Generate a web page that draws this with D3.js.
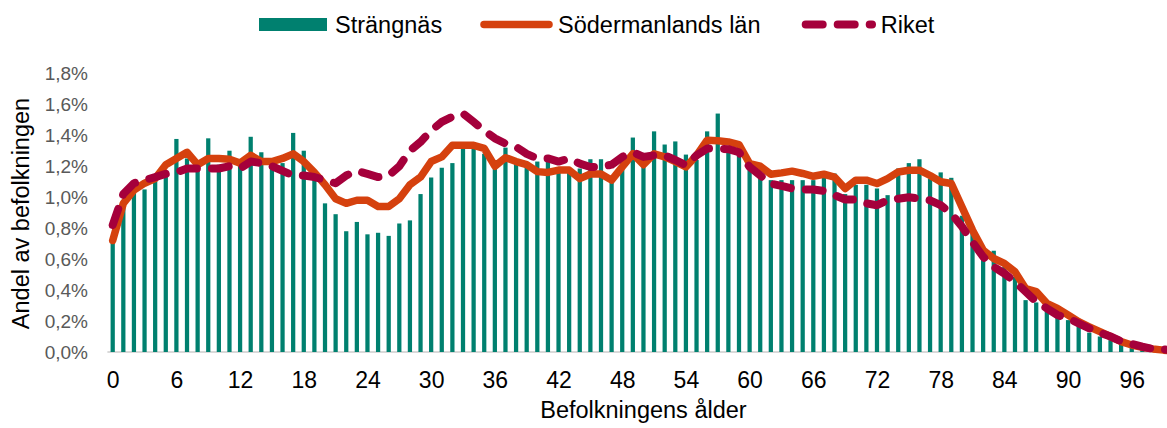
<!DOCTYPE html>
<html lang="sv">
	<head>
		<meta charset="utf-8">
		<title>Befolkning efter ålder</title>
		<script type="text/javascript" src="https://cdn.jsdelivr.net/npm/d3@7"></script>
		<style type="text/css">
			body { margin: 0; background: #fff; }
			svg { display: block; }
			text { font-family: "Liberation Sans", Arial, sans-serif; }
		</style>
	</head>
	<body>
		<script type="text/javascript">
			var w = 1167;
			var h = 428;

			// ages 0..100
			var ages = d3.range(0, 101);
			var xTickLabels = [0, 6, 12, 18, 24, 30, 36, 42, 48, 54, 60, 66, 72, 78, 84, 90, 96];
			var yTickLabels = [0, 0.2, 0.4, 0.6, 0.8, 1.0, 1.2, 1.4, 1.6, 1.8];

			// share of population, %
			var strangnas = [
				0.74, 0.98, 1.03, 1.05, 1.11, 1.15, 1.376, 1.25, 1.20, 1.38,
				1.21, 1.30, 1.21, 1.39, 1.29, 1.245, 1.22, 1.415, 1.30, 1.15,
				0.96, 0.89, 0.78, 0.84, 0.76, 0.77, 0.75, 0.83, 0.85, 1.02,
				1.127, 1.19, 1.22, 1.32, 1.32, 1.28, 1.24, 1.32, 1.24, 1.20,
				1.23, 1.23, 1.17, 1.16, 1.185, 1.245, 1.245, 1.12, 1.275, 1.385,
				1.215, 1.425, 1.34, 1.36, 1.275, 1.24, 1.425, 1.54, 1.325, 1.29,
				1.20, 1.146, 1.11, 1.11, 1.11, 1.11, 1.11, 1.168, 1.153, 1.02,
				1.08, 1.08, 1.056, 1.013, 1.185, 1.22, 1.245, 1.12, 1.16, 1.125,
				0.88, 0.765, 0.61, 0.654, 0.55, 0.486, 0.335, 0.32, 0.28, 0.25,
				0.206, 0.174, 0.125, 0.10, 0.077, 0.056, 0.03, 0.02, 0.012, 0.006,
				0.004
			];
			var sodermanland = [
				0.72, 0.96, 1.045, 1.09, 1.12, 1.21, 1.25, 1.29, 1.21, 1.25,
				1.25, 1.245, 1.22, 1.27, 1.23, 1.23, 1.25, 1.28, 1.23, 1.16,
				1.08, 0.99, 0.96, 0.98, 0.98, 0.94, 0.94, 0.99, 1.08, 1.13,
				1.23, 1.26, 1.335, 1.335, 1.335, 1.315, 1.20, 1.255, 1.23, 1.21,
				1.165, 1.16, 1.175, 1.175, 1.12, 1.15, 1.15, 1.11, 1.195, 1.28,
				1.21, 1.28, 1.26, 1.23, 1.195, 1.27, 1.368, 1.365, 1.357, 1.34,
				1.217, 1.20, 1.148, 1.157, 1.168, 1.153, 1.135, 1.148, 1.13, 1.056,
				1.11, 1.11, 1.088, 1.12, 1.163, 1.174, 1.174, 1.14, 1.10, 1.088,
				0.937, 0.787, 0.658, 0.604, 0.572, 0.518, 0.41, 0.39, 0.314, 0.282,
				0.239, 0.196, 0.163, 0.131, 0.10, 0.067, 0.045, 0.03, 0.02, 0.012,
				0.006
			];
			var riket = [
				0.82, 1.02, 1.09, 1.11, 1.13, 1.15, 1.16, 1.185, 1.185, 1.185,
				1.185, 1.20, 1.185, 1.23, 1.22, 1.20, 1.17, 1.14, 1.14, 1.13,
				1.11, 1.09, 1.14, 1.17, 1.15, 1.13, 1.14, 1.20, 1.30, 1.357,
				1.43, 1.486, 1.52, 1.54, 1.486, 1.43, 1.38, 1.346, 1.325, 1.28,
				1.25, 1.25, 1.23, 1.25, 1.217, 1.195, 1.195, 1.21, 1.26, 1.29,
				1.26, 1.27, 1.27, 1.24, 1.206, 1.27, 1.314, 1.314, 1.31, 1.29,
				1.195, 1.14, 1.088, 1.073, 1.056, 1.05, 1.05, 1.04, 1.013, 0.985,
				0.985, 0.96, 0.948, 0.98, 0.99, 1.0, 0.99, 0.98, 0.948, 0.895,
				0.81, 0.71, 0.615, 0.55, 0.507, 0.454, 0.39, 0.325, 0.282, 0.239,
				0.217, 0.185, 0.153, 0.125, 0.10, 0.07, 0.052, 0.034, 0.02, 0.017,
				0.01
			];

			var green = "#00806f";
			var orange = "#d5410e";
			var maroon = "#a5003b";

			var plotLeft = 107.4;
			var step = 10.615;
			var plotRight = plotLeft + step * ages.length;

			var xScale = d3.scalePoint()
							.domain(ages)
							.range([plotLeft, plotRight])
							.padding(0.5);
			var yScale = d3.scaleLinear()
							.domain([0, 1.8])
							.range([352, 73.3]);
			var barW = xScale.step() * 0.4;

			var svg = d3.select("body")
							.append("svg")
							.attr("width", w)
							.attr("height", h);

			//baseline
			svg.append("line")
				.attr("x1", plotLeft)
				.attr("x2", w)
				.attr("y1", yScale(0))
				.attr("y2", yScale(0))
				.attr("stroke", "#d9d9d9")
				.attr("stroke-width", 2);

			//bars
			svg.append("g")
				.selectAll("rect")
				.data(strangnas)
				.enter()
				.append("rect")
				.attr("x", function(d, i) { return xScale(ages[i]) - barW / 2; })
				.attr("y", function(d) { return yScale(d); })
				.attr("width", barW)
				.attr("height", function(d) { return yScale(0) - yScale(d); })
				.attr("fill", green);

			var line = d3.line()
							.x(function(d, i) { return xScale(ages[i]); })
							.y(function(d) { return yScale(d); });

			svg.append("path")
				.datum(sodermanland)
				.attr("d", line)
				.attr("fill", "none")
				.attr("stroke", orange)
				.attr("stroke-width", 7.5)
				.attr("stroke-linejoin", "round")
				.attr("stroke-linecap", "round");

			svg.append("path")
				.datum(riket)
				.attr("d", line)
				.attr("fill", "none")
				.attr("stroke", maroon)
				.attr("stroke-width", 8)
				.attr("stroke-dasharray", "17,15")
				.attr("stroke-linejoin", "round")
				.attr("stroke-linecap", "round");

			//x axis
			var xAxis = d3.axisBottom(xScale)
							.tickValues(xTickLabels)
							.tickSize(0)
							.tickPadding(20);
			var gx = svg.append("g")
						.attr("transform", "translate(0," + yScale(0) + ")")
						.call(xAxis);
			gx.select(".domain").remove();
			gx.selectAll("text")
				.attr("font-family", "Liberation Sans, Arial, sans-serif")
				.attr("font-size", "23px")
				.attr("fill", "#000");

			//y axis
			var yAxis = d3.axisLeft(yScale)
							.tickValues(yTickLabels)
							.tickSize(0)
							.tickPadding(0)
							.tickFormat(function(d) { return d.toFixed(1).replace(".", ",") + "%"; });
			var gy = svg.append("g")
						.attr("transform", "translate(88,0)")
						.call(yAxis);
			gy.select(".domain").remove();
			gy.selectAll("text")
				.attr("font-family", "Open Sans, sans-serif")
				.attr("font-weight", 300)
				.attr("font-size", "19px")
				.attr("fill", "#595959");

			//axis titles
			svg.append("text")
				.attr("transform", "translate(29,213.5) rotate(-90)")
				.attr("text-anchor", "middle")
				.attr("font-size", "23.5px")
				.attr("fill", "#000")
				.text("Andel av befolkningen");

			svg.append("text")
				.attr("x", (plotLeft + plotRight) / 2)
				.attr("y", 418)
				.attr("text-anchor", "middle")
				.attr("font-size", "23.5px")
				.attr("fill", "#000")
				.text("Befolkningens ålder");

			//legend
			var legend = svg.append("g");
			legend.append("rect")
				.attr("x", 259)
				.attr("y", 18)
				.attr("width", 68)
				.attr("height", 13)
				.attr("fill", green);
			legend.append("text")
				.attr("x", 335)
				.attr("y", 33)
				.attr("font-size", "23.5px")
				.text("Strängnäs");
			legend.append("line")
				.attr("x1", 484).attr("x2", 549)
				.attr("y1", 24.5).attr("y2", 24.5)
				.attr("stroke", orange)
				.attr("stroke-width", 7.5)
				.attr("stroke-linecap", "round");
			legend.append("text")
				.attr("x", 558)
				.attr("y", 33)
				.attr("font-size", "23.5px")
				.text("Södermanlands län");
			legend.append("line")
				.attr("x1", 805.7).attr("x2", 872)
				.attr("y1", 24.5).attr("y2", 24.5)
				.attr("stroke", maroon)
				.attr("stroke-width", 8)
				.attr("stroke-dasharray", "17,15")
				.attr("stroke-linecap", "round");
			legend.append("text")
				.attr("x", 880.7)
				.attr("y", 33)
				.attr("font-size", "23.5px")
				.text("Riket");
		</script>
	</body>
</html>
